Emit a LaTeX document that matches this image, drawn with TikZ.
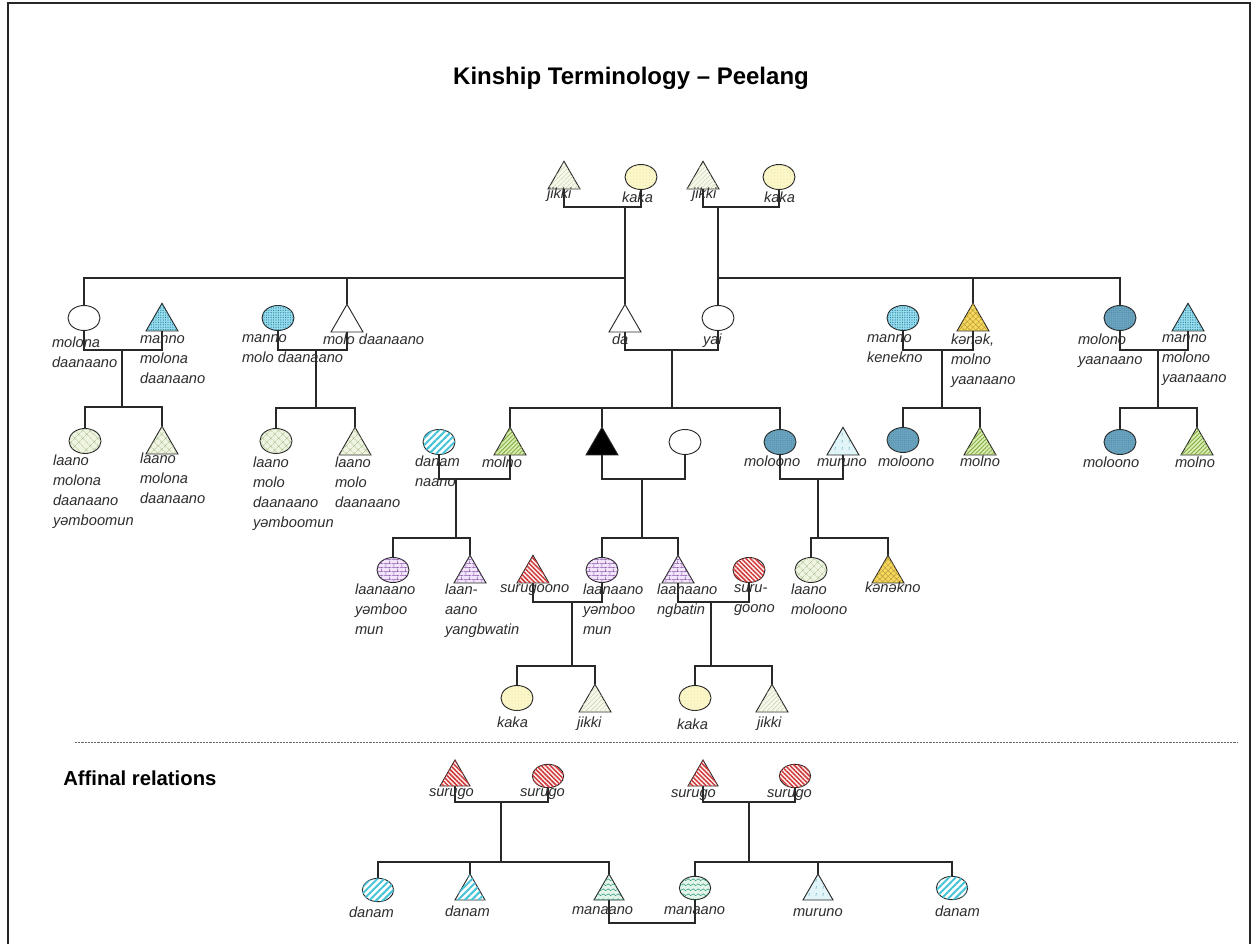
\documentclass[tikz,border=0pt]{standalone}
\usepackage{fontspec}
\setmainfont{Liberation Sans}
\usetikzlibrary{shapes.geometric,patterns.meta}

\definecolor{inkline}{RGB}{40,40,40}
\definecolor{labtext}{RGB}{45,45,45}
\definecolor{kakaY}{RGB}{251,247,200}
\definecolor{kakaDot}{RGB}{225,215,140}
\definecolor{jikkiG}{RGB}{246,248,236}
\definecolor{jikkiL}{RGB}{195,205,165}
\definecolor{cyanF}{RGB}{150,220,235}
\definecolor{cyanDot}{RGB}{35,125,165}
\definecolor{steelF}{RGB}{105,163,190}
\definecolor{steelDot}{RGB}{70,125,155}
\definecolor{greenF}{RGB}{218,236,175}
\definecolor{greenL}{RGB}{125,170,65}
\definecolor{yellowF}{RGB}{246,216,95}
\definecolor{yellowL}{RGB}{185,155,55}
\definecolor{paleF}{RGB}{238,244,224}
\definecolor{paleL}{RGB}{165,185,140}
\definecolor{lilacF}{RGB}{242,228,250}
\definecolor{lilacL}{RGB}{135,85,170}
\definecolor{redF}{RGB}{255,240,240}
\definecolor{redL}{RGB}{205,55,55}
\definecolor{tealL}{RGB}{70,195,215}
\definecolor{murF}{RGB}{225,244,248}
\definecolor{murL}{RGB}{95,170,190}
\definecolor{waveF}{RGB}{226,245,232}
\definecolor{waveL}{RGB}{45,150,125}

% small brick courses
\tikzdeclarepattern{
  name=smallbricks, type=uncolored,
  bounding box={(0pt,0pt) and (6pt,6pt)},
  tile size={(6pt,6pt)},
  code={
    \draw[line width=0.45pt] (0pt,0.5pt) -- (6pt,0.5pt) (0pt,3.5pt) -- (6pt,3.5pt)
      (1.5pt,0.5pt) -- (1.5pt,3.5pt) (4.5pt,3.5pt) -- (4.5pt,6pt) (4.5pt,0pt) -- (4.5pt,0.5pt);
  }
}
% wavy lines
\tikzdeclarepattern{
  name=waves, type=uncolored,
  bounding box={(0pt,0pt) and (4pt,3.5pt)},
  tile size={(4pt,3.5pt)},
  code={
    \draw[line width=0.4pt] (0pt,1.75pt) sin (1pt,2.45pt) cos (2pt,1.75pt) sin (3pt,1.05pt) cos (4pt,1.75pt);
  }
}
% short dash marks
\tikzdeclarepattern{
  name=ticks, type=uncolored,
  bounding box={(0pt,0pt) and (5pt,5pt)},
  tile size={(5pt,5pt)},
  code={
    \draw[line width=0.45pt] (1.5pt,1pt) -- (1.8pt,3pt);
  }
}

\newcommand\labstrut{\rule{0pt}{8pt}}
\pgfdeclarelayer{paper}
\pgfdeclarelayer{links}
\pgfsetlayers{paper,links,main}

\tikzset{
  link/.style={draw=inkline, line width=0.95pt},
  sep/.style={draw=black!60, line width=0.6pt, dash pattern=on 1.6pt off 0.8pt},
  person/.style={draw=inkline, line width=0.7pt, inner sep=0pt, outer sep=0pt},
  fem/.style={person, ellipse, minimum width=24pt, minimum height=18.75pt},
  mal/.style={person, regular polygon, regular polygon sides=3, minimum size=27.7pt, anchor=south},
  afem/.style={fem, minimum width=23.5pt, minimum height=17.5pt},
  amal/.style={mal, minimum size=26pt},
  blank/.style={fill=white},
  self/.style={fill=black},
  kakaP/.style={fill=kakaY, postaction={pattern={Dots[radius=0.3pt,distance=2.4pt]}, pattern color=kakaDot}},
  jikkiP/.style={fill=jikkiG, postaction={pattern={Lines[angle=45,distance=2.4pt,line width=0.3pt]}, pattern color=jikkiL}},
  cyanP/.style={fill=cyanF, postaction={pattern={Dots[radius=0.45pt,distance=1.8pt]}, pattern color=cyanDot}},
  steelP/.style={fill=steelF, postaction={pattern={Dots[radius=0.3pt,distance=1.6pt]}, pattern color=steelDot}},
  greenP/.style={fill=greenF, postaction={pattern={Lines[angle=45,distance=2.2pt,line width=0.6pt]}, pattern color=greenL}},
  yellowP/.style={fill=yellowF, postaction={pattern={Hatch[angle=45,distance=3pt,line width=0.35pt]}, pattern color=yellowL}},
  paleP/.style={fill=paleF, postaction={pattern={Hatch[angle=45,distance=4pt,line width=0.3pt]}, pattern color=paleL}},
  lilacP/.style={fill=lilacF, postaction={pattern=smallbricks, pattern color=lilacL}},
  redP/.style={fill=redF, postaction={pattern={Lines[angle=-45,distance=2.4pt,line width=1.1pt]}, pattern color=redL}},
  danamP/.style={fill=white, postaction={pattern={Lines[angle=45,distance=3.6pt,line width=1.5pt]}, pattern color=tealL}},
  murP/.style={fill=murF, postaction={pattern=ticks, pattern color=murL}},
  waveP/.style={fill=waveF, postaction={pattern=waves, pattern color=waveL}},
  lab/.style={anchor=north west, yshift=8pt, inner sep=0pt, outer sep=0pt, align=left,
    text=labtext, font=\itshape\fontsize{11pt}{15pt}\selectfont,
    execute at begin node=\labstrut},
  heading/.style={anchor=base, inner sep=0pt, font=\bfseries\fontsize{18pt}{21pt}\selectfont},
  sectlab/.style={anchor=base west, inner sep=0pt, font=\bfseries\fontsize{15.2pt}{18pt}\selectfont},
}

\begin{document}
\begin{tikzpicture}[x=0.75pt, y=-0.75pt]
\useasboundingbox (0,0) rectangle (1257,944);
\begin{pgfonlayer}{paper}
  \fill[white] (0,0) rectangle (1257,944);
  \draw[line width=1.3pt, black!85] (8,944) -- (8,3) -- (1250,3) -- (1250,944);
\end{pgfonlayer}

\node[heading] (title) at (631,85) {Kinship Terminology – Peelang};
\node[sectlab] (affinal) at (63,785) {Affinal relations};

% ---------- grandparents
\node[mal, jikkiP] (gfA) at (564,189) {};
\node[fem, kakaP]  (gmA) at (641,177) {};
\node[mal, jikkiP] (gfB) at (703,189) {};
\node[fem, kakaP]  (gmB) at (779,177) {};

% ---------- parents' generation
\node[fem, blank] (molonaD) at (84,318) {};
\node[mal, cyanP] (mannoMolonaD) at (162,331) {};
\node[fem, cyanP] (mannoMoloD) at (278,318) {};
\node[mal, blank] (moloD) at (347,332) {};
\node[mal, blank] (da) at (625,332) {};
\node[fem, blank] (yai) at (718,318) {};
\node[fem, cyanP] (mannoKen) at (903,318) {};
\node[mal, yellowP] (kenek) at (973,331) {};
\node[fem, steelP] (molonoY) at (1120,318) {};
\node[mal, cyanP] (mannoMolonoY) at (1188,331) {};

% ---------- ego's generation
\node[fem, paleP] (laanoA) at (85,441) {};
\node[mal, paleP] (laanoB) at (162,454) {};
\node[fem, paleP] (laanoC) at (276,441) {};
\node[mal, paleP] (laanoD) at (355,455) {};
\node[fem, danamP] (danamN) at (439,442) {};
\node[mal, greenP] (molnoA) at (510,455) {};
\node[mal, self] (ego) at (602,455) {};
\node[fem, blank] (wife) at (685,442) {};
\node[fem, steelP] (moloonoA) at (780,442) {};
\node[mal, murP] (murunoA) at (843,455) {};
\node[fem, steelP] (moloonoB) at (903,440) {};
\node[mal, greenP] (molnoB) at (980,455) {};
\node[fem, steelP] (moloonoC) at (1120,442) {};
\node[mal, greenP] (molnoC) at (1197,455) {};

% ---------- children's generation
\node[fem, lilacP] (lybA) at (393,570) {};
\node[mal, lilacP] (lyang) at (470,583) {};
\node[mal, redP] (surugoonoA) at (533,583) {};
\node[fem, lilacP] (lybB) at (602,570) {};
\node[mal, lilacP] (lngb) at (678,583) {};
\node[fem, redP] (surugoonoB) at (749,570) {};
\node[fem, paleP] (laanoMol) at (811,570) {};
\node[mal, yellowP] (kenekno) at (888,583) {};

% ---------- grandchildren
\node[fem, kakaP]  (kakaC) at (517,698) {};
\node[mal, jikkiP] (jikkiC) at (595,712) {};
\node[fem, kakaP]  (kakaD) at (695,698) {};
\node[mal, jikkiP] (jikkiD) at (772,712) {};

% ---------- affinal relations
\node[amal, redP] (surA) at (455,786) {};
\node[afem, redP] (surB) at (548,776) {};
\node[amal, redP] (surC) at (703,786) {};
\node[afem, redP] (surD) at (795,776) {};
\node[afem, danamP] (danA) at (378,890) {};
\node[amal, danamP] (danB) at (470,900) {};
\node[amal, waveP] (manA) at (609,900) {};
\node[afem, waveP] (manB) at (695,888) {};
\node[amal, murP] (murB) at (818,900) {};
\node[afem, danamP] (danC) at (952,888) {};

% ---------- junction points
\coordinate (cGA) at (625,207);  \coordinate (sGA) at (625,278);
\coordinate (cGB) at (718,207);  \coordinate (sGB) at (718,278);
\coordinate (cA) at (122,350);   \coordinate (sA) at (122,407);
\coordinate (cB) at (316,350);   \coordinate (sB) at (316,408);
\coordinate (cC) at (672,350);   \coordinate (sC) at (672,408);
\coordinate (cD) at (942,350);   \coordinate (sD) at (942,408);
\coordinate (cE) at (1158,350);  \coordinate (sE) at (1158,408);
\coordinate (cF) at (456,479);   \coordinate (sF) at (456,538);
\coordinate (cG) at (642,479);   \coordinate (sG) at (642,538);
\coordinate (cH) at (818,479);   \coordinate (sH) at (818,538);
\coordinate (cI) at (572,602);   \coordinate (sI) at (572,666);
\coordinate (cJ) at (711,602);   \coordinate (sJ) at (711,666);
\coordinate (cK) at (501,802);   \coordinate (sK) at (501,862);
\coordinate (cL) at (749,802);   \coordinate (sL) at (749,862);
\coordinate (wed) at (652,923);
\coordinate (dashL) at (75,742); \coordinate (dashR) at (1238,742);

\begin{pgfonlayer}{links}
  % grandparents and their children
  \draw[link] (gfA.south) |- (cGA) -| (gmA.south);
  \draw[link] (cGA) -- (da.north);
  \draw[link] (molonaD.north) |- (sGA);
  \draw[link] (moloD.north) -- (moloD.north |- sGA);
  \draw[link] (gfB.south) |- (cGB) -| (gmB.south);
  \draw[link] (cGB) -- (yai.north);
  \draw[link] (sGB) -| (molonoY.north);
  \draw[link] (kenek.north) -- (kenek.north |- sGB);
  % parents' generation couples
  \draw[link] (molonaD.south) |- (cA) -| (mannoMolonaD.south);
  \draw[link] (cA) -- (sA);
  \draw[link] (laanoA.north) |- (sA) -| (laanoB.north);
  \draw[link] (mannoMoloD.south) |- (cB) -| (moloD.south);
  \draw[link] (cB) -- (sB);
  \draw[link] (laanoC.north) |- (sB) -| (laanoD.north);
  \draw[link] (da.south) |- (cC) -| (yai.south);
  \draw[link] (cC) -- (sC);
  \draw[link] (molnoA.north) |- (sC) -| (moloonoA.north);
  \draw[link] (ego.north) -- (ego.north |- sC);
  \draw[link] (mannoKen.south) |- (cD) -| (kenek.south);
  \draw[link] (cD) -- (sD);
  \draw[link] (moloonoB.north) |- (sD) -| (molnoB.north);
  \draw[link] (molonoY.south) |- (cE) -| (mannoMolonoY.south);
  \draw[link] (cE) -- (sE);
  \draw[link] (moloonoC.north) |- (sE) -| (molnoC.north);
  % ego's generation couples
  \draw[link] (danamN.south) |- (cF) -| (molnoA.south);
  \draw[link] (cF) -- (sF);
  \draw[link] (lybA.north) |- (sF) -| (lyang.north);
  \draw[link] (ego.south) |- (cG) -| (wife.south);
  \draw[link] (cG) -- (sG);
  \draw[link] (lybB.north) |- (sG) -| (lngb.north);
  \draw[link] (moloonoA.south) |- (cH) -| (murunoA.south);
  \draw[link] (cH) -- (sH);
  \draw[link] (laanoMol.north) |- (sH) -| (kenekno.north);
  % children's generation couples
  \draw[link] (surugoonoA.south) |- (cI) -| (lybB.south);
  \draw[link] (cI) -- (sI);
  \draw[link] (kakaC.north) |- (sI) -| (jikkiC.north);
  \draw[link] (lngb.south) |- (cJ) -| (surugoonoB.south);
  \draw[link] (cJ) -- (sJ);
  \draw[link] (kakaD.north) |- (sJ) -| (jikkiD.north);
  % separator
  \draw[sep] (dashL) -- (dashR);
  % affinal relations
  \draw[link] (surA.south) |- (cK) -| (surB.south);
  \draw[link] (cK) -- (sK);
  \draw[link] (danA.north) |- (sK) -| (manA.north);
  \draw[link] (danB.north) -- (danB.north |- sK);
  \draw[link] (surC.south) |- (cL) -| (surD.south);
  \draw[link] (cL) -- (sL);
  \draw[link] (manB.north) |- (sL) -| (danC.north);
  \draw[link] (murB.north) -- (murB.north |- sL);
  \draw[link] (manA.south) |- (wed) -| (manB.south);
\end{pgfonlayer}

% ---------- terms
\node[lab] (t1) at (547,199) {jikki};
\node[lab] (t2) at (622,203) {kaka};
\node[lab] (t3) at (692,199) {jikki};
\node[lab] (t4) at (764,203) {kaka};

\node[lab] (t5) at (52,348) {molona\\daanaano};
\node[lab] (t6) at (140,346) {manno\\molona\\daanaano};
\node[lab] (t7) at (242,345) {manno\\molo daanaano};
\node[lab] (t8) at (323,345) {molo daanaano};
\node[lab] (t9) at (612,345) {da};
\node[lab] (t10) at (703,345) {yai};
\node[lab] (t11) at (867,345) {manno\\kenekno};
\node[lab] (t12) at (951,345) {kənək,\\molno\\yaanaano};
\node[lab] (t13) at (1078,345) {molono\\yaanaano};
\node[lab] (t14) at (1162,345) {manno\\molono\\yaanaano};

\node[lab] (t15) at (53,466) {laano\\molona\\daanaano\\yəmboomun};
\node[lab] (t16) at (140,464) {laano\\molona\\daanaano};
\node[lab] (t17) at (253,468) {laano\\molo\\daanaano\\yəmboomun};
\node[lab] (t18) at (335,468) {laano\\molo\\daanaano};
\node[lab] (t19) at (415,467) {danam\\naano};
\node[lab] (t20) at (482,468) {molno};
\node[lab] (t21) at (744,467) {moloono};
\node[lab] (t22) at (817,467) {muruno};
\node[lab] (t23) at (878,467) {moloono};
\node[lab] (t24) at (960,467) {molno};
\node[lab] (t25) at (1083,468) {moloono};
\node[lab] (t26) at (1175,468) {molno};

\node[lab] (t27) at (355,595) {laanaano\\yəmboo\\mun};
\node[lab] (t28) at (445,595) {laan-\\aano\\yangbwatin};
\node[lab] (t29) at (500,593) {surugoono};
\node[lab] (t30) at (583,595) {laanaano\\yəmboo\\mun};
\node[lab] (t31) at (657,595) {laanaano\\ngbatin};
\node[lab] (t32) at (734,595) {suru-\\goono};
\node[lab] (t33) at (791,595) {laano\\moloono};
\node[lab] (t34) at (865,593) {kənəkno};

\node[lab] (t35) at (497,727) {kaka};
\node[lab] (t36) at (577,727) {jikki};
\node[lab] (t37) at (677,729) {kaka};
\node[lab] (t38) at (757,727) {jikki};

\node[lab] (t39) at (429,796) {surugo};
\node[lab] (t40) at (520,796) {surugo};
\node[lab] (t41) at (671,797) {surugo};
\node[lab] (t42) at (767,797) {surugo};
\node[lab] (t43) at (349,917) {danam};
\node[lab] (t44) at (445,916) {danam};
\node[lab] (t45) at (572,914) {manaano};
\node[lab] (t46) at (664,914) {manaano};
\node[lab] (t47) at (793,916) {muruno};
\node[lab] (t48) at (935,916) {danam};
\end{tikzpicture}
\end{document}
